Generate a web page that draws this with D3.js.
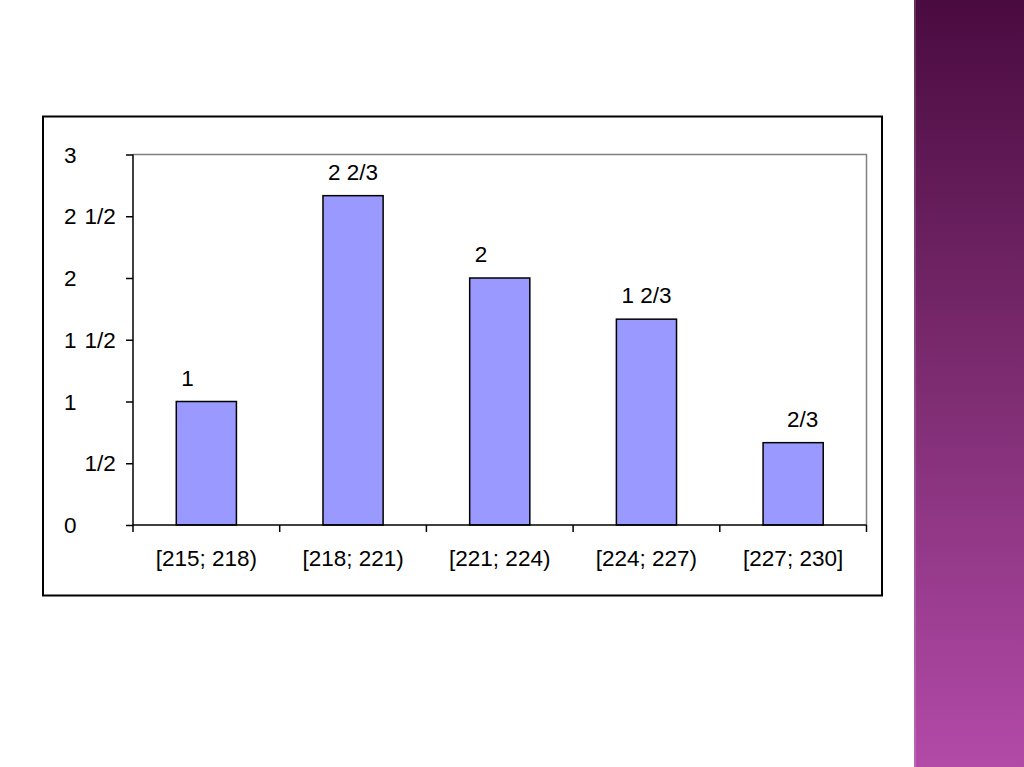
<!DOCTYPE html>
<html>
<head>
<meta charset="utf-8">
<script src="https://cdn.jsdelivr.net/npm/d3@7"></script>
<style>
  html, body { margin: 0; padding: 0; background: #ffffff; }
  svg { display: block; font-family: Arial, "Liberation Sans", sans-serif; }
</style>
</head>
<body>
<svg id="chart" width="1024" height="767"></svg>
<script>
// ---- data ----
const categories = ["[215; 218)", "[218; 221)", "[221; 224)", "[224; 227)", "[227; 230]"];
const values = [1, 8/3, 2, 5/3, 2/3];
const valueLabels = [["1", ""], ["2", "2/3"], ["2", ""], ["1", "2/3"], ["", "2/3"]];
const yTicks = [0, 0.5, 1, 1.5, 2, 2.5, 3];
const yTickLabels = [["0", ""], ["", "1/2"], ["1", ""], ["1", "1/2"], ["2", ""], ["2", "1/2"], ["3", ""]];

const svg = d3.select("#chart");

// slide decoration: purple strip on the right
const defs = svg.append("defs");
const grad = defs.append("linearGradient").attr("id", "strip")
  .attr("x1", 0).attr("y1", 0).attr("x2", 0).attr("y2", 1);
grad.append("stop").attr("offset", "0%").attr("stop-color", "#4a0b40");
grad.append("stop").attr("offset", "45%").attr("stop-color", "#78296c");
grad.append("stop").attr("offset", "100%").attr("stop-color", "#b24aa8");
svg.append("rect").attr("x", 914).attr("y", 0).attr("width", 110).attr("height", 767)
  .attr("fill", "url(#strip)");
svg.append("rect").attr("x", 914).attr("y", 0).attr("width", 2).attr("height", 767)
  .attr("fill", "#ffffff").attr("opacity", 0.15);

// chart frame
svg.append("rect").attr("x", 43).attr("y", 116.5).attr("width", 839).attr("height", 479)
  .attr("fill", "#ffffff").attr("stroke", "#000000").attr("stroke-width", 2);

const plot = { left: 133, right: 866.5, top: 154.5, bottom: 525 };

const x = d3.scaleBand().domain(categories).range([plot.left, plot.right]).paddingInner(0).paddingOuter(0);
const y = d3.scaleLinear().domain([0, 3]).range([plot.bottom, plot.top]);

// plot area border (gray top and right)
svg.append("path")
  .attr("d", `M${plot.left},${plot.top}H${plot.right}V${plot.bottom}`)
  .attr("fill", "none").attr("stroke", "#808080").attr("stroke-width", 1.5);

// bars
const bw = x.bandwidth() * 0.41;
svg.append("g").selectAll("rect").data(values).join("rect")
  .attr("x", (d, i) => x(categories[i]) + x.bandwidth() / 2 - bw / 2)
  .attr("y", d => y(d))
  .attr("width", bw)
  .attr("height", d => y(0) - y(d))
  .attr("fill", "#9999ff")
  .attr("stroke", "#000000")
  .attr("stroke-width", 1.5);

// y axis
const yAxis = svg.append("g").attr("transform", `translate(${plot.left},0)`)
  .call(d3.axisLeft(y).tickValues(yTicks).tickSize(7).tickFormat(""));
yAxis.select(".domain").attr("stroke", "#000").attr("stroke-width", 1.5)
  .attr("d", `M0,${plot.top}V${plot.bottom}`);
yAxis.selectAll(".tick line").attr("stroke", "#000").attr("stroke-width", 1.5);

// y tick labels (fraction format: whole part left, fraction part aligned)
const fs = 22.5;
const yl = svg.append("g").attr("font-size", fs).attr("fill", "#000");
yTicks.forEach((t, i) => {
  const [w, f] = yTickLabels[i];
  const txt = yl.append("text").attr("y", y(t)).attr("dy", "0.36em");
  if (w) txt.append("tspan").attr("x", 64).text(w);
  if (f) txt.append("tspan").attr("x", 84.5).text(f);
});

// x axis
const xAxis = svg.append("g").attr("transform", `translate(0,${plot.bottom})`);
xAxis.append("line").attr("x1", plot.left).attr("x2", plot.right)
  .attr("stroke", "#000").attr("stroke-width", 1.5);
const boundaries = categories.map(c => x(c)).concat([plot.right]);
xAxis.selectAll("line.tk").data(boundaries).join("line").attr("class", "tk")
  .attr("x1", d => d).attr("x2", d => d).attr("y1", 0).attr("y2", 7)
  .attr("stroke", "#000").attr("stroke-width", 1.5);
xAxis.selectAll("text").data(categories).join("text")
  .attr("x", d => x(d) + x.bandwidth() / 2)
  .attr("y", 41)
  .attr("text-anchor", "middle")
  .attr("font-size", fs)
  .attr("fill", "#000")
  .text(d => d);

// value labels (fraction layout "w f/f" centered on bar)
const lab = svg.append("g").attr("font-size", fs).attr("fill", "#000");
const probe = lab.append("text").text("8 8/8");
const W = probe.node().getComputedTextLength();
probe.text("8/8");
const wFrac = probe.node().getComputedTextLength();
probe.remove();
const fracOffset = W - wFrac;
values.forEach((v, i) => {
  const cx = x(categories[i]) + x.bandwidth() / 2;
  const x0 = cx - W / 2;
  const [w, f] = valueLabels[i];
  const t = lab.append("text").attr("y", y(v) - 16);
  if (w) t.append("tspan").attr("x", x0).text(w);
  if (f) t.append("tspan").attr("x", x0 + fracOffset).text(f);
});
</script>
</body>
</html>
